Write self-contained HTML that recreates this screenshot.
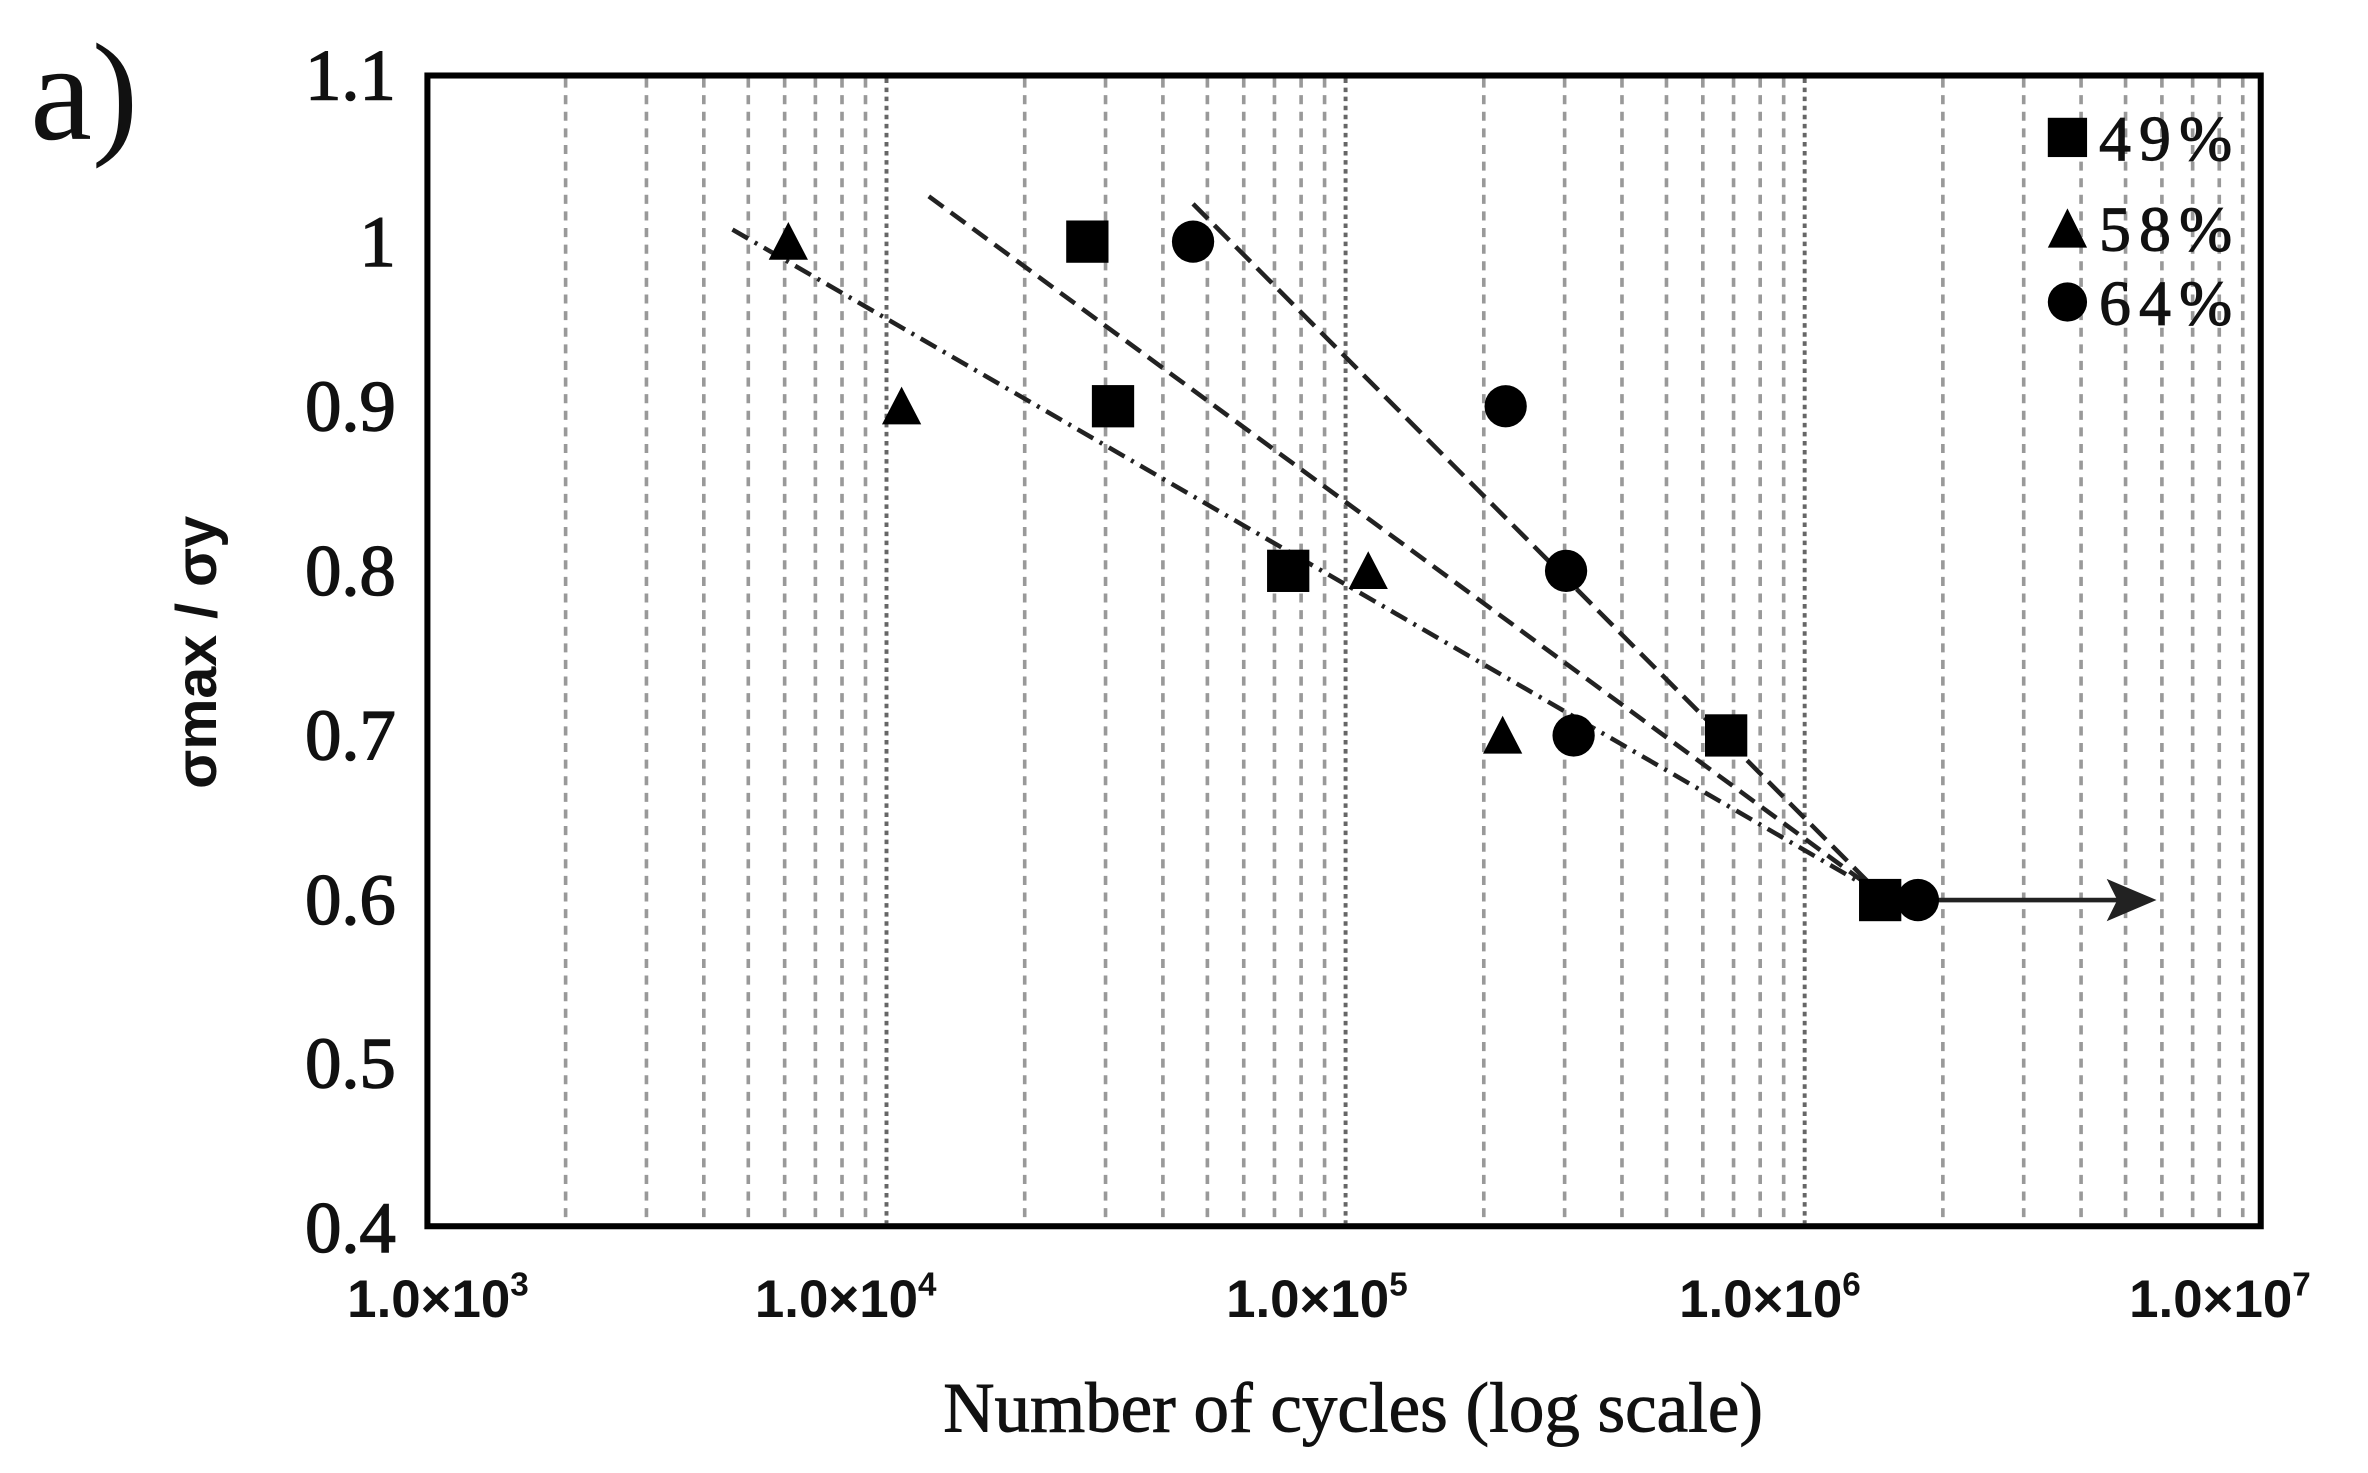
<!DOCTYPE html>
<html><head><meta charset="utf-8"><style>
html,body{margin:0;padding:0;background:#fff;}
svg{display:block}
</style></head><body>
<svg id="s" width="2368" height="1473" viewBox="0 0 1568 975.4" xmlns="http://www.w3.org/2000/svg">
<rect x="0" y="0" width="1568" height="976" fill="#fff"/>
<g id="grid"></g>
<line x1="485" y1="152" x2="1245" y2="592" stroke="#222" stroke-width="3" stroke-dasharray="12,5,2,5"/>
<line x1="615" y1="130" x2="1245" y2="592" stroke="#222" stroke-width="3" stroke-dasharray="12,6"/>
<line x1="790" y1="135" x2="1245" y2="592" stroke="#222" stroke-width="3" stroke-dasharray="14,6"/>
<line x1="1270" y1="596" x2="1410" y2="596" stroke="#222" stroke-width="3"/>
<polygon points="1428,596 1395,582 1402,596 1395,610" fill="#222"/>
<g fill="#000">
<rect x="706" y="146" width="28" height="28"/>
<rect x="723" y="255" width="28" height="28"/>
<rect x="839" y="364" width="28" height="28"/>
<rect x="1129" y="473" width="28" height="28"/>
<rect x="1231" y="582" width="28" height="28"/>
<polygon points="522,147 509,172 535,172"/>
<polygon points="597,256 584,281 610,281"/>
<polygon points="906,365 893,390 919,390"/>
<polygon points="995,474 982,499 1008,499"/>
<circle cx="790" cy="160" r="14"/>
<circle cx="997" cy="269" r="14"/>
<circle cx="1037" cy="378" r="14"/>
<circle cx="1042" cy="487" r="14"/>
<circle cx="1270" cy="596" r="14"/>
<rect x="1356" y="78" width="26" height="26"/>
<polygon points="1369,138 1356,164 1382,164"/>
<circle cx="1369" cy="200" r="13"/>
</g>
<g font-family="Liberation Serif, serif" font-size="42" fill="#111" stroke="#111" stroke-width="0.8">
<text x="1390" y="106" textLength="88">49%</text>
<text x="1390" y="166" textLength="88">58%</text>
<text x="1390" y="215" textLength="88">64%</text>
</g>
<rect x="283" y="50" width="1214" height="762" fill="none" stroke="#000" stroke-width="4"/>
<g font-family="Liberation Serif, serif" font-size="48" fill="#111" stroke="#111" stroke-width="1" text-anchor="end">
<text x="262" y="66">1.1</text>
<text x="262" y="176">1</text>
<text x="262" y="285">0.9</text>
<text x="262" y="394">0.8</text>
<text x="262" y="503">0.7</text>
<text x="262" y="612">0.6</text>
<text x="262" y="720">0.5</text>
<text x="262" y="829">0.4</text>
</g>
<g font-family="Liberation Sans, sans-serif" font-size="35" font-weight="bold" fill="#111" text-anchor="middle">
<text x="290" y="872">1.0×10<tspan dy="-14" font-size="22">3</tspan></text>
<text x="560" y="872">1.0×10<tspan dy="-14" font-size="22">4</tspan></text>
<text x="872" y="872">1.0×10<tspan dy="-14" font-size="22">5</tspan></text>
<text x="1172" y="872">1.0×10<tspan dy="-14" font-size="22">6</tspan></text>
<text x="1470" y="872">1.0×10<tspan dy="-14" font-size="22">7</tspan></text>
</g>
<text x="896" y="948" font-family="Liberation Serif, serif" font-size="47" fill="#111" stroke="#111" stroke-width="0.6" text-anchor="middle">Number of cycles (log scale)</text>
<text transform="translate(143,432) rotate(-90)" font-family="Liberation Sans, sans-serif" font-size="38" font-weight="bold" fill="#111" text-anchor="middle">σmax / σy</text>
<text x="20" y="92" font-family="Liberation Serif, serif" font-size="92" fill="#111">a)</text>
</svg>
<script>
var g=document.getElementById('grid'),h='';
for(var d=3;d<7;d++){for(var m=1;m<10;m++){var x=283+304*(d-3+Math.log10(m));
if(m==1&&d==3)continue;
var maj=(m==1);
h+='<line x1="'+x+'" y1="52" x2="'+x+'" y2="810" stroke="'+(maj?'#666':'#999')+'" stroke-width="'+(maj?2.6:2.4)+'" stroke-dasharray="'+(maj?'3,3':'6,5')+'"/>';}}
g.innerHTML=h;
</script>
</body></html>
